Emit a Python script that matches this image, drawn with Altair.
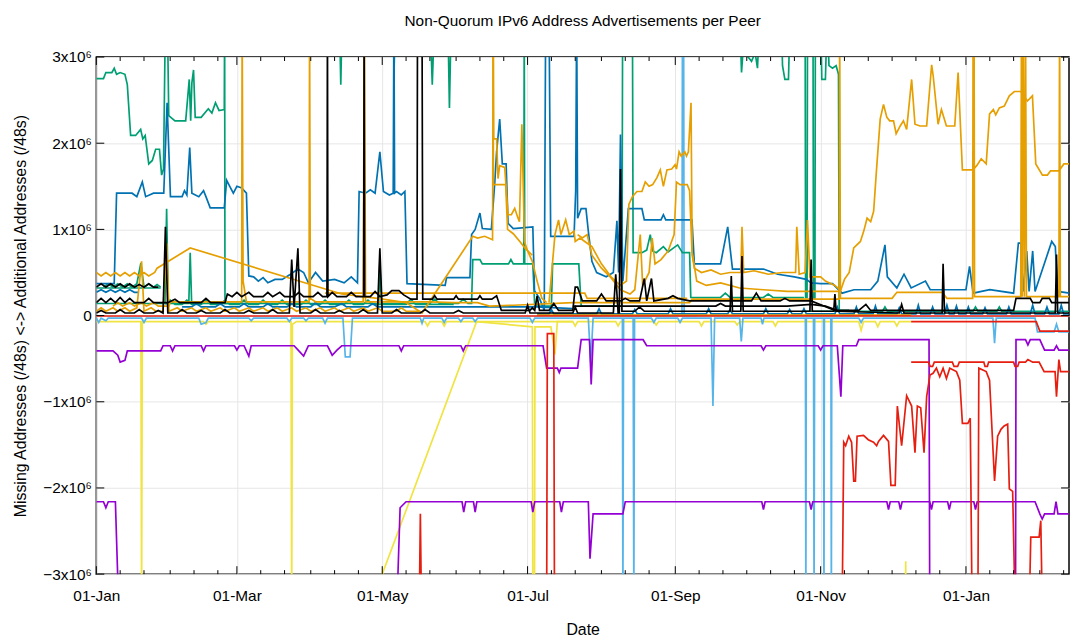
import altair as alt
import pandas as pd

# ---------------------------------------------------------------
# Data: (day offset from 2019-01-01, value in millions of /48s)
# values beyond +/-3 are off the plotted range (clipped)
# ---------------------------------------------------------------
yellow_flat = [(0,-0.07),(18.7,-0.07),(19,-3.5),(19.3,-0.07),(45,-0.07),(46,-0.1),(47,-0.07),(81.7,-0.07),(82,-3.5),(82.3,-0.1),(84,-0.07),
    (138,-0.07),(139,-0.12),(140,-0.07),(145,-0.07),(146,-0.12),(147,-0.07),(185,-0.07),(200,-0.07),(201,-0.12),(202,-0.07),(218,-0.07),(219,-0.12),(220,-0.07),
    (234,-0.07),(235,-0.11),(236,-0.07),(253,-0.07),(254,-0.12),(255,-0.07),(268,-0.07),(269,-0.11),(270,-0.07),(284,-0.07),(285,-0.12),(286,-0.07),
    (320,-0.07),(321,-0.17),(322,-0.07),(327,-0.07),(328,-0.13),(329,-0.07),(335,-0.07),(336,-0.12),(337,-0.07),(342,-0.07)]
yellow_ramp = [(110,-3.5),(120,-3.0),(159.6,-0.07),(183,-0.13),(183.2,-3.5),(183.9,-3.5),(184.1,-0.13),(190.8,-0.13),(192.5,-0.45),(193.5,-0.07),(200,-0.07)]
yellow_spike = [(339.5,-3.5),(339.7,-2.85),(339.9,-3.5)]

lblue_a = [(0,-0.03),(1,-0.08),(2,-0.03),(4,-0.06),(5,-0.03),(19,-0.03),(20,-0.08),(21,-0.03),(43,-0.03),(44,-0.1),(46,-0.08),(47,-0.03),
    (64,-0.03),(65,-0.06),(66,-0.03),(80,-0.03),(81,-0.07),(82,-0.03),(87,-0.03),(88,-0.06),(89,-0.03),(95,-0.03),(96,-0.09),(97,-0.03),
    (103.5,-0.03),(104.5,-0.48),(106.5,-0.48),(107.5,-0.03),(136,-0.03),(136.7,-0.09),(137.4,-0.03),(145,-0.03),(146,-0.08),(147,-0.03),
    (152,-0.03),(153,-0.07),(154,-0.03),(158,-0.03),(159,-0.07),(160,-0.03),(182,-0.03),(183,-0.08),(184,-0.03),(206.5,-0.03),(207.5,-0.55),(208.5,-0.03),
    (220.8,-0.03),(221,-3.5),(221.3,-0.03),(225.3,-0.03),(225.6,-3.5),(225.9,-0.03),(233,-0.03),(234,-0.08),(235,-0.03),(244,-0.03),(245,-0.08),(246,-0.03),
    (258,-0.03),(258.8,-1.05),(259.5,-0.03),(270,-0.03),(270.7,-0.3),(271.4,-0.03),(279,-0.03),(279.6,-0.1),(280.2,-0.03),
    (297.6,-0.03),(297.8,-3.5),(298,-0.03),(301,-0.03),(301.25,-3.5),(301.5,-0.03),(305.2,-0.03),(305.4,-3.5),(305.6,-0.03),(308.3,-0.03),(308.5,-3.5),(308.7,-0.03),
    (320,-0.03),(321,-0.08),(322,-0.03),(376.3,-0.03),(377,-0.32),(377.7,-0.03),(394,-0.03),(395,-0.19),(402,-0.19),(403,-0.1),(404,-0.19),(408.5,-0.19)]
lblue_b = [(200,0.0),(245.8,0.0),(246,3.5),(246.5,3.5),(246.7,0.0),(252,0.0)]

purple_upper = [(0,-0.41),(7,-0.41),(9,-0.46),(10,-0.54),(12,-0.52),(13,-0.41),(27,-0.41),(28,-0.35),(31,-0.35),(32,-0.41),(33,-0.35),(44,-0.35),(45,-0.41),(46,-0.35),
    (58,-0.35),(59,-0.4),(60,-0.35),(62,-0.35),(64,-0.47),(65,-0.35),(83,-0.35),(85,-0.41),(87,-0.47),(88,-0.41),(89,-0.35),(97,-0.35),(99,-0.46),(101,-0.4),(103,-0.35),
    (127,-0.35),(128,-0.41),(129,-0.35),(153,-0.35),(154,-0.41),(155,-0.35),(187.5,-0.35),(189,-0.61),(193.5,-0.61),(194.3,-0.66),(195,-0.61),(202,-0.61),(203.5,-0.28),
    (207,-0.28),(207.7,-0.8),(208.5,-0.28),(229.5,-0.28),(231,-0.35),(279,-0.35),(280,-0.4),(281,-0.35),(303,-0.35),(304,-0.4),(305,-0.35),(311,-0.35),(312.5,-0.94),(313.3,-0.35),
    (319,-0.35),(320,-0.28),(349.5,-0.28),(349.8,-3.5),(385.8,-3.5),(386,-0.28),(390,-0.28),(391,-0.34),(392,-0.28),(396,-0.28),(398,-0.4),(402,-0.4),(403,-0.35),(404,-0.4),(408.5,-0.4)]
purple_lower = [(0,-2.16),(3,-2.16),(4,-2.23),(5,-2.16),(8,-2.16),(9.5,-3.5),(126,-3.5),(127.5,-2.23),(130,-2.16),(153.5,-2.16),(154.2,-2.28),(155,-2.16),(158.3,-2.16),(159,-2.28),(159.7,-2.16),
    (182.5,-2.16),(183.2,-2.28),(184,-2.16),(194.5,-2.16),(195.2,-2.28),(196,-2.16),(206.5,-2.16),(207.2,-2.82),(208.5,-2.3),(221,-2.3),(222,-2.16),(279.3,-2.16),(280,-2.25),(280.7,-2.16),
    (299.3,-2.16),(300,-2.25),(300.7,-2.16),(331.8,-2.16),(332.5,-2.25),(333.2,-2.16),(336.8,-2.16),(337.5,-2.25),(338.2,-2.16),(349.8,-2.16),(350.5,-2.25),(351.2,-2.16),
    (357.3,-2.16),(358,-2.25),(358.7,-2.16),(368.3,-2.16),(369,-2.25),(369.7,-2.16),(394,-2.16),(396,-2.3),(397,-2.36),(398,-2.3),(402,-2.3),(402.8,-2.16),(403.6,-2.3),(408.5,-2.3)]

red_zero = [(0,-0.005),(408.5,-0.005)]
red_blocks = [(135.5,-3.5),(136,-2.3),(136.5,-3.5),(189,-3.5),(189.3,-0.21),(192,-0.21),(192.3,-3.5)]
red_neg01 = [(342,-0.07),(394.5,-0.07),(396,-0.18),(408.5,-0.18)]
red_neg05 = [(342,-0.54),(349.3,-0.54),(350,-0.59),(351,-0.59),(351.7,-0.54),(359.3,-0.54),(360,-0.59),(361.5,-0.59),(362.2,-0.54),(372.5,-0.54),(373,-0.59),(374,-0.59),(374.5,-0.54),
    (385,-0.54),(385.6,-0.59),(386.7,-0.59),(387.3,-0.54),(390,-0.54),(391,-0.51),(393,-0.54),(395.7,-0.54),(397.8,-0.65),(402.4,-0.65),(403,-0.94),(404,-0.51),(404.7,-0.65),(408.5,-0.65)]
red_deep = [(313,-3.5),(313.7,-1.47),(314.5,-1.51),(315.8,-1.40),(317,-1.47),(317.9,-1.92),(318.6,-1.92),(319.3,-1.40),(322,-1.39),(324,-1.44),(326.2,-1.47),(327.5,-1.51),(328.3,-1.46),
    (330.4,-1.39),(332.5,-1.46),(333.5,-1.97),(335.3,-1.97),(336.2,-1.05),(338,-1.51),(340.1,-0.93),(342.2,-1.05),(343.6,-1.59),(344.6,-1.05),(346,-1.07),(347.4,-1.59),(348.5,-0.94),
    (349.9,-0.69),(351.2,-0.67),(352.6,-0.61),(354,-0.71),(355.4,-0.61),(356.8,-0.73),(358.2,-0.61),(361,-0.65),(362.4,-0.75),(363.5,-1.25),(365.8,-1.25),(366.8,-1.19),(367.6,-3.5),
    (370,-3.5),(370.4,-0.61),(373.5,-0.65),(374.9,-0.75),(377,-1.92),(378.3,-1.40),(379.7,-1.32),(381,-1.28),(382.5,-1.26),(383.2,-2.01),(384.6,-2.04),(385.7,-3.5),
    (391.5,-3.5),(392.2,-2.57),(395.7,-2.57),(396.4,-2.38),(397.1,-3.5),(408.5,-3.5)]

teal_top_left = [(0,2.75),(3,2.75),(4,2.82),(6.5,2.82),(7.5,2.87),(8.5,2.8),(10,2.82),(12,2.8),(13,2.68),(14.4,2.09),(16.5,2.09),(18.6,2.16),(19.5,2.05),(20.5,2.09),(22,1.76),
    (23.5,1.8),(24.9,1.93),(26.5,1.93),(27.4,1.63),(28.2,1.7),(29,3.5),(29.8,3.5),(30.4,2.32),(33,2.26),(37.5,2.26),(39,2.74),(39.6,2.26),(40.1,2.7),(40.8,2.85),(41.5,2.3),
    (44,2.3),(47,2.4),(48.5,2.35),(50,2.47),(51.5,2.38),(53.7,2.39),(53.85,3.5),(54,0.14),(60,0.14)]
teal_top_mid = [(95,3.5),(102,3.5),(102.6,2.68),(103.2,3.5),(124.5,3.5),(125,2.87),(125.5,3.5),(140,3.5),(141,2.68),(142,3.5),(147.5,3.5),(148.2,2.41),(149,3.5),(155,3.5)]
teal_top_right = [(268,3.5),(270,3.5),(270.8,2.82),(271.5,3.1),(273,3.02),(275,2.95),(276.5,3.05),(277.5,2.87),(278.5,3.5),(287.5,3.5),(288,2.9),(289,2.74),(290.5,2.74),(291.2,3.5),
    (297.5,3.5),(297.7,0.21),(298.3,0.21),(298.5,3.5),(300.8,3.5),(301,0.2),(301.6,0.2),(301.8,3.5),(304,3.5),(304.5,2.74),(306,2.74),(306.8,3.5),(307.5,2.9),(309,2.87),
    (310.5,2.9),(311.5,2.8),(311.8,0.06),(316,0.06)]
teal_mid = [(0,0.14),(28.8,0.14),(29.5,1.24),(30.2,0.14),(38.8,0.14),(39.4,0.73),(40,0.14),(118.5,0.14),(119,0.63),(119.6,0.14),(140,0.14),(142,0.19),(144,0.14),(152,0.14),
    (154,0.19),(156,0.14),(157.5,0.14),(158,0.65),(161,0.65),(162,0.6),(173,0.6),(174,0.65),(175,0.6),(179.4,0.6),(179.6,3.5),(179.8,0.6),(183.2,0.6),(184,0.11),(191,0.11),
    (191.5,0.6),(202.5,0.6),(203.5,0.11),(220.6,0.11),(220.9,3.5),(225,3.5),(225.3,0.73),(229,0.73),(231,0.76),(232.5,0.94),(233.5,0.75),(235,0.73),(238,0.8),(240,0.74),
    (244,0.82),(246,0.73),(249,0.73),(249.5,0.21),(262,0.21),(264,0.26),(266,0.21),(280,0.21),(282,0.25),(284,0.21),(297,0.21)]
teal_flat_jan = [(0,0.32),(27,0.32)]
teal_zig_jan = [(3,0.33),(5,0.37),(7,0.33),(9,0.37),(11,0.33),(13,0.37),(15,0.33),(17,0.37),(18.7,0.61),(20,0.33),(22,0.37),(24,0.33),(25.5,0.36),(27,0.33)]
teal_zig_spring = [(29,0.13),(31,0.18),(33,0.13),(36,0.13),(38,0.18),(40,0.13),(44,0.13),(46,0.18),(48,0.13),(52,0.13),(54,0.18),(56,0.13),(60,0.13),(62,0.18),(64,0.13),
    (68,0.13),(70,0.18),(72,0.13),(76,0.13),(78,0.18),(80,0.13),(86,0.13),(88,0.18),(90,0.13),(94,0.13),(96,0.18),(98,0.13),(104,0.13),(106,0.18),(108,0.13),(112,0.13),
    (114,0.18),(116,0.13),(120,0.13),(130,0.13),(132,0.19),(134,0.13),(150,0.13)]
teal_low_right = [(297,0.05),(330,0.05),(331,0.1),(332,0.05),(368,0.05),(369,0.1),(370,0.05),(378,0.05),(379,0.1),(380,0.05),(408.5,0.05)]

blue_a = [(0,0.37),(7.5,0.37),(8.5,1.42),(15,1.42),(17,1.38),(19.3,1.55),(20.7,1.38),(24,1.42),(28.3,1.42),(29.7,2.47),(31.1,1.38),(36,1.38),(37,1.45),(38,1.4),(39.2,1.95),
    (40.1,1.42),(43,1.38),(45,1.45),(46,1.38),(47.8,1.25),(53.7,1.25),(54.7,1.57),(56,1.5),(57.5,1.42),(59,1.5),(61,1.48),(63,1.42),(64,0.46),(66,0.45),(68,0.40),(70,0.44),
    (72,0.38),(75,0.42),(78,0.42),(81,0.47),(84.6,0.54),(87,0.5),(89,0.38),(92,0.5),(95,0.4),(100,0.42),(104,0.38),(107,0.45),(109.6,0.38),(110.3,1.44),(113,1.42),(115,1.46),
    (117,1.42),(119,1.9),(120.5,1.44),(123,1.4),(124.6,1.42),(124.9,3.5),(125.2,1.42),(126,1.44),(128,1.4),(129.5,1.44),(130.4,0.37),(146.4,0.35),(147,0.44),(156.8,0.44),
    (157.5,0.94),(159,1.0),(161,1.19),(162,1.01),(165.8,1.0),(167.2,1.53),(168,1.9),(169.3,2.28),(170.4,1.76),(172,1.76),(172.8,1.07),(175,1.01),(183.2,1.03),(183.9,0.29)]
blue_b = [(183.9,0.29),(186,0.2),(188,0.06),(188.6,3.5),(190,3.5),(190.7,0.92),(200.5,0.92),(201.2,1.45),(201.6,3.5),(202,1.13),(203.5,1.24),(205.5,1.24),(206.5,0.98),
    (208,0.63),(210,0.5),(214,0.45),(217,0.5),(218.5,1.1),(219.2,0.5),(220,2.1),(221,0.4),(223.3,1.24),(229,1.24),(230,1.11),(237,1.11),(238,1.17),(239,1.11),(250,1.11),
    (251,0.6),(262,0.6),(265,1.03),(267,0.54),(280,0.54),(286,0.48),(293,0.45),(298,0.42),(300,0.38),(304,0.37),(309,0.37),(313,0.26),(318,0.3),(325,0.3),(328,0.4),
    (331,0.82),(332,0.45),(336,0.32),(339,0.48),(342,0.32),(348,0.4),(350,0.3),(365,0.3),(366.5,0.57),(368,0.26),(375,0.3),(385,0.26),(387,0.84),(388,0.84),(389,0.28),
    (390.5,0.75),(391.5,0.28),(393,0.75),(394,0.28),(401,0.86),(402.5,0.8),(403.5,0.28),(408.5,0.26)]
blue_jan = [(0,0.27),(2,0.3),(4,0.27),(6,0.3),(8,0.27),(10,0.3),(12,0.27),(14,0.3),(16,0.27),(17.5,0.27)]
blue_low = [(36,0.1),(40,0.1),(42,0.14),(44,0.1),(50,0.1),(52,0.14),(54,0.1),(60,0.1),(62,0.14),(64,0.1),(70,0.1),(72,0.14),(74,0.1),(80,0.1),(82,0.14),(84,0.1),
    (90,0.1),(92,0.15),(94,0.1),(100,0.1),(103,0.14),(105,0.1),(110,0.1),(114,0.1),(116,0.14),(118,0.1),(130,0.1),(150,0.1),(170,0.1),(185,0.1),(200,0.08)]
blue_tri = [(185,0.02),(190,0.02),(191,0.07),(192,0.02),(210,0.02),(211,0.08),(212,0.02),(225,0.02),(226,0.07),(227,0.02),(240,0.02),(241,0.08),(242,0.02),
    (256,0.02),(257,0.08),(258,0.02),(265,0.02),(266,0.07),(267,0.02),(280,0.02),(281,0.08),(282,0.02),(290,0.02),(291,0.07),(292,0.02),(296,0.02),(297,0.08),(298,0.02),
    (310,0.02),(311,0.1),(312,0.02),(318,0.02),(319,0.1),(320,0.02),(326,0.02),(327,0.11),(328,0.02),(336,0.02),(337,0.09),(338,0.02),(344,0.02),(345,0.12),(346,0.02),
    (350,0.02),(351,0.1),(352,0.02),(356,0.02),(357,0.12),(358,0.02),(360,0.02),(361,0.11),(362,0.02),(365,0.02),(366,0.1),(367,0.02),(372,0.02),(373,0.09),(374,0.02),
    (382,0.02),(383,0.1),(384,0.02),(392,0.02),(393,0.12),(394,0.02),(398,0.02),(399,0.1),(400,0.02),(404,0.02),(405,0.12),(406,0.02),(408.5,0.02)]

orange_zero = [(185,0.005),(342,0.005)]
orange_jan = [(0,0.5),(2,0.46),(4,0.5),(6,0.46),(8,0.5),(10,0.46),(12,0.5),(14,0.46),(16,0.5),(18,0.46),(20,0.5),(22,0.46),(24.5,0.5),(25.5,0.55),(39.4,0.785),
    (103,0.25),(118,0.2),(130,0.15),(136.7,0.03),(158,0.92),(160,0.9),(163,0.92),(166.3,0.88),(166.6,3.5),(166.8,2.05),(168,2.05),(168.6,1.59),(169.3,1.74),(171.4,1.72),
    (172.8,1.17),(174.2,1.17),(175.6,1.245),(177,1.13),(177.6,1.09),(178.6,2.22),(179.7,0.86),(181,0.75),(183,0.63),(185,0.4),(187,0.2),(189,0.15)]
orange_shelf = [(166.4,3.5),(166.7,1.52),(171.8,1.52),(172.6,1.0),(175,0.95),(178,0.85),(180,0.78),(183,0.7)]
orange_low_zig = [(0,0.05),(2,0.09),(4,0.05),(7,0.09),(9,0.05),(12,0.09),(14,0.05),(17,0.09),(19,0.63),(20,0.05),(23,0.09),(25,0.05),(28,0.05),(29.5,0.84),(30.5,0.05),
    (34,0.09),(36,0.05),(40,0.09),(42,0.05),(46,0.09),(48,0.05),(52,0.09),(54,0.05),(58,0.09),(60,0.05),(64,0.09),(66,0.05),(70,0.09),(72,0.05),(76,0.09),(78,0.05),
    (82,0.09),(84,0.05),(88,0.09),(90,0.05),(94,0.09),(96,0.05),(100,0.09),(102,0.05),(106,0.09),(108,0.05),(112,0.09),(114,0.05),(118,0.09),(120,0.05),(126,0.05),
    (128,0.09),(130,0.05),(136,0.05)]
orange_base = [(7,0.11),(9,0.15),(11,0.11),(14,0.15),(16,0.11),(19,0.15),(21,0.11),(24,0.15),(26,0.11),(30.5,0.11),(31,0.16),(60,0.16),(61,0.16),(61.2,3.5),(61.6,0.4),
    (63,0.16),(89.3,0.16),(89.5,3.5),(89.8,0.2),(92,0.16),(112,0.16),(112.5,3.5),(113,0.16),(140,0.16),(150,0.15),(160,0.15),(165,0.11),(175,0.12),(200,0.15),(249,0.15),
    (250,0.19),(311.8,0.19),(312,3.5),(312.3,0.2),(330,0.2),(334,0.2),(336,0.27),(355,0.27),(357,0.2),(367.8,0.2),(368,3.5),(368.4,3.5),(368.6,0.22),(388,0.22),
    (388.3,3.5),(388.6,0.22),(389,3.5),(389.5,0.22),(390,3.5),(390.4,0.22),(404,0.22),(404.3,3.5),(404.6,0.22),(408.5,0.22)]
orange_flat = [(96,0.26),(205,0.26),(206,0.2),(248,0.2)]
orange_mid = [(190,0.15),(192.5,0.94),(194,1.11),(195,0.94),(197,1.11),(198.5,0.94),(200.5,0.98),(201,0.86),(203,0.9),(205,0.86),(208,0.8),(212,0.6),(216,0.45),
    (220,0.35),(222.5,0.4),(223.5,1.29),(225,1.38),(226.9,1.44),(229,1.44),(230.4,1.55),(232,1.5),(233.5,1.52),(235.3,1.6),(236.7,1.69),(238,1.5),(239.5,1.69),(241.5,1.7),
    (242.9,1.75),(243.5,1.7),(244.6,1.9),(245.5,1.85),(247,1.9),(247.7,1.85),(248.5,1.9),(249.6,2.47),(250.1,0.7),(251,0.55),(254,0.5),(258,0.53),(262,0.48),(266,0.5),
    (270.5,0.5),(271,1.03),(271.7,0.5),(276,0.52),(282,0.48),(288,0.5),(293.5,0.5),(294,1.03),(295,0.48),(297.5,0.5),(298.5,1.11),(299.5,0.45),(304,0.45),(306,0.4),
    (310,0.35),(312.4,0.29),(314,0.42),(316,0.5),(317.9,0.785),(320.7,0.86),(322.1,0.98),(323.5,1.13),(325,1.09),(326.25,1.21),(327.4,1.67),(329,2.28),(330.4,2.45),
    (331.8,2.3),(333,2.26),(334.6,2.26),(335.7,2.11),(337.4,2.2),(338.75,2.26),(340.1,2.16),(342.2,2.74),(343.6,2.22),(345.7,2.2),(348.5,2.2),(350.6,2.91),(351.25,2.78),
    (353.3,2.22),(354.7,2.39),(356.8,2.2),(360.3,2.2),(361.7,2.82),(363.5,1.69),(367.9,1.69),(369.5,1.74),(371.4,1.82),(373.5,1.76),(374.9,2.34),(376.5,2.39),(377.5,2.33),
    (379,2.41),(381.1,2.43),(383.2,2.55),(385.3,2.6),(388.1,2.6),(390.8,2.49),(392.9,2.55),(394.3,1.76),(397.1,1.63),(399.2,1.63),(400.5,1.68),(404,1.68),(406.1,1.76),(408.5,1.76)]
orange_second = [(202,0.94),(204,0.9),(206,0.94),(208,0.7),(212,0.55),(216,0.44),(220,0.3),(224,0.25),(226,0.3),(228.3,0.94),(229.3,0.35),(232,0.5),(233.3,0.9),(234.5,0.6),
    (237,0.65),(240,0.75),(242.5,0.94),(243.5,1.55),(245,1.52),(248,1.52),(249,1.45),(250,0.75),(252,0.4),(256,0.35),(262,0.38),(270,0.32),(280,0.3),(290,0.28),(300,0.28),(312,0.28)]

black_jan = [(0,0.33),(2,0.37),(4,0.33),(6,0.37),(8,0.33),(10,0.37),(12,0.33),(14,0.37),(16,0.33),(18,0.36),(20,0.33),(22,0.37),(24,0.33),(26,0.33)]
black_steps = [(0,0.15),(2,0.2),(4,0.15),(6,0.2),(8,0.15),(10,0.21),(12,0.15),(14,0.2),(16,0.15),(20,0.15),(22,0.2),(24,0.15),(30,0.15),(33,0.19),(35,0.15),(44,0.15),
    (46,0.2),(48,0.15),(54,0.15),(55,0.25),(57,0.22),(59,0.27),(61,0.22),(64,0.27),(66,0.22),(70,0.22),(72,0.27),(74,0.22),(77,0.27),(79,0.22),(83,0.22),(85,0.27),(87,0.22),
    (91,0.22),(93,0.27),(95,0.22),(96.8,0.22),(97,3.5),(97.2,0.22),(99,0.27),(101,0.22),(105,0.22),(107,0.27),(109,0.22),(112.2,0.22),(112.4,3.5),(112.6,0.22),(115,0.22),
    (117,0.28),(119,0.22),(122,0.24),(124,0.29),(127,0.29),(129,0.24),(132,0.19),(134.6,0.19),(134.8,3.5),(136.7,3.5),(137,0.19),(141,0.19),(142,0.23),(143,0.19),(150,0.19),
    (151,0.23),(152,0.19),(160,0.19),(161,0.23),(162,0.19),(166,0.19),(168,0.23),(170,0.06),(182,0.06),(183,0.09),(184,0.06),(185,0.23),(186,0.06),(190,0.06),(192,0.14),
    (194,0.06),(200,0.06),(201,0.33),(202,0.33),(204,0.17),(210,0.17),(212,0.25),(214,0.17),(220,0.17),(222,0.2),(224,0.17),(228,0.17),(230,0.43),(231,0.17),(233,0.43),
    (234,0.17),(240,0.2),(242,0.23),(244,0.2),(249,0.17),(266,0.17),(275,0.17),(277,0.26),(279,0.17),(287,0.17),(289,0.2),(291,0.17),(300,0.17),(310,0.06),(320,0.06),
    (323,0.13),(325,0.06),(340,0.06),(385,0.06),(386,0.2),(392,0.2),(393,0.15),(396,0.15),(397,0.2),(400,0.2),(401,0.15),(408.5,0.15)]
black_mid = [(200,0.11),(260,0.11),(262,0.14),(264,0.11),(290,0.11),(300,0.13),(306,0.11),(311,0.06)]
black_low = [(0,0.03),(2,0.06),(4,0.03),(8,0.03),(10,0.07),(12,0.03),(16,0.03),(18,0.07),(20,0.03),(24,0.03),(26,0.06),(28,0.03),(29,1.03),(30,0.03),(34,0.03),(36,0.07),
    (38,0.03),(42,0.03),(44,0.06),(46,0.03),(52,0.03),(54,0.07),(56,0.03),(62,0.03),(64,0.06),(66,0.03),(72,0.03),(74,0.07),(76,0.03),(81,0.03),(82,0.65),(83,0.1),
    (84.6,0.78),(85.5,0.03),(90,0.03),(92,0.07),(94,0.03),(100,0.03),(102,0.06),(104,0.03),(110,0.03),(112,0.07),(114,0.03),(118,0.03),(119,0.78),(120,0.03),(124,0.03),
    (126,0.07),(128,0.03),(136,0.03),(138,0.07),(140,0.03),(150,0.03),(152,0.06),(154,0.03),(180,0.03),(181,0.12),(182,0.03),(200,0.03),(201,0.1),(202,0.03),(217,0.03),
    (218,0.48),(219,0.03),(219.5,0.03),(220,1.7),(220.6,0.05),(226,0.05),(228,0.1),(230,0.05),(266,0.05),(266.5,0.46),(267,0.05),(270.5,0.05),(271,0.69),(271.5,0.05),
    (299.5,0.05),(300,0.65),(300.5,0.05),(309.5,0.05),(310,0.25),(310.5,0.05),(337,0.03),(338,0.13),(339,0.03),(355,0.03),(355.4,0.6),(356,0.03),(402.5,0.03),(403,0.71),
    (403.5,0.03),(408.5,0.03)]

PURPLE, TEAL, LBLUE, ORANGE = "#9400d3", "#009e73", "#56b4e9", "#e69f00"
YELLOW, BLUE, RED, BLACK = "#f0e442", "#0072b2", "#e51e10", "#000000"

SERIES = [
    (yellow_flat, YELLOW), (yellow_ramp, YELLOW), (yellow_spike, YELLOW),
    (lblue_a, LBLUE), (lblue_b, LBLUE),
    (purple_upper, PURPLE), (purple_lower, PURPLE),
    (red_blocks, RED), (red_neg01, RED), (red_neg05, RED), (red_deep, RED),
    (teal_top_left, TEAL), (teal_top_mid, TEAL), (teal_top_right, TEAL), (teal_mid, TEAL),
    (teal_flat_jan, TEAL), (teal_zig_jan, TEAL), (teal_zig_spring, TEAL), (teal_low_right, TEAL),
    (blue_a, BLUE), (blue_b, BLUE), (blue_jan, BLUE), (blue_low, BLUE), (blue_tri, BLUE),
    (orange_jan, ORANGE), (orange_shelf, ORANGE), (orange_low_zig, ORANGE),
    (orange_base, ORANGE), (orange_flat, ORANGE), (orange_mid, ORANGE), (orange_second, ORANGE),
    (black_jan, BLACK), (black_steps, BLACK), (black_mid, BLACK), (black_low, BLACK),
    (orange_zero, ORANGE), (red_zero, RED),
]

MAJOR_MONTHS = [(2019, 1), (2019, 3), (2019, 5), (2019, 7), (2019, 9), (2019, 11), (2020, 1)]
Y_TICKS = [-3e6, -2e6, -1e6, 0, 1e6, 2e6, 3e6]
FONT = "Liberation Sans"
W, H = 980, 521

BASE = pd.Timestamp("2019-01-01")


def iso(ts):
    return ts.strftime("%Y-%m-%dT%H:%M:%S")


rows = []
names, colors = [], []
for k, (pts, col) in enumerate(SERIES):
    name = f"s{k:02d}"
    names.append(name)
    colors.append(col)
    for i, (d, v) in enumerate(pts):
        rows.append({"series": name, "date": iso(BASE + pd.Timedelta(days=d)), "value": v * 1e6, "i": i})
df = pd.DataFrame(rows)

major_dates = [iso(pd.Timestamp(year=y, month=m, day=1)) for y, m in MAJOR_MONTHS]
minor_dates = []
for y, m in [(2019, mm) for mm in range(1, 13)] + [(2020, 1), (2020, 2)]:
    for dd in (1, 11, 21):
        t = pd.Timestamp(year=y, month=m, day=dd)
        if t <= pd.Timestamp("2020-02-13") and iso(t) not in major_dates:
            minor_dates.append(iso(t))
df_major = pd.DataFrame({"date": major_dates})
df_minor = pd.DataFrame({"date": minor_dates})
df_y = pd.DataFrame({"value": Y_TICKS})

xscale = alt.Scale(domain=[alt.DateTime(year=2019, month=1, date=1),
                           alt.DateTime(year=2020, month=2, date=13, hours=6)])
yscale = alt.Scale(domain=[-3e6, 3e6], nice=False, zero=False)

xaxis = alt.Axis(values=[alt.DateTime(year=y, month=m, date=1) for y, m in MAJOR_MONTHS],
                 format="%d-%b", labelFontSize=15.5, labelPadding=15, labelFont=FONT, labelColor="black",
                 labelFlush=False, labelOverlap=False, ticks=False, tickSize=0, domain=False,
                 grid=True, gridColor="#e6e6e6", gridWidth=1,
                 title="Date", titleFontSize=16, titleFontWeight="normal", titleFont=FONT,
                 titleColor="black", titlePadding=17)
yaxis = alt.Axis(values=Y_TICKS,
                 labelExpr="datum.value == 0 ? '0' : format(datum.value / 1000000, 'd') + 'x10\u2076'",
                 labelFontSize=15.5, labelPadding=5, labelFont=FONT, labelColor="black",
                 labelFlush=False, labelOverlap=False, ticks=False, tickSize=0, domain=False,
                 grid=True, gridColor="#e6e6e6", gridWidth=1,
                 title="Missing Addresses (/48s) <-> Additional Addresses (/48s)",
                 titleFontSize=16, titleFontWeight="normal", titleFont=FONT, titleColor="black",
                 titlePadding=14)

X = alt.X("date:T", scale=xscale, axis=xaxis)
Y = alt.Y("value:Q", scale=yscale, axis=yaxis)

lines = alt.Chart(df).mark_line(clip=True, strokeWidth=1.7).encode(
    x=X, y=Y,
    color=alt.Color("series:N", scale=alt.Scale(domain=names, range=colors), legend=None),
    order=alt.Order("i:Q"),
)

tick_major_b = alt.Chart(df_major).mark_rule(color="black", strokeWidth=1).encode(
    x=X, y=alt.value(H), y2=alt.value(H - 8))
tick_minor_b = alt.Chart(df_minor).mark_rule(color="black", strokeWidth=1).encode(
    x=X, y=alt.value(H), y2=alt.value(H - 4))
tick_major_t = alt.Chart(df_major).mark_rule(color="black", strokeWidth=1).encode(
    x=X, y=alt.value(0), y2=alt.value(8))
tick_minor_t = alt.Chart(df_minor).mark_rule(color="black", strokeWidth=1).encode(
    x=X, y=alt.value(0), y2=alt.value(4))
tick_y_l = alt.Chart(df_y).mark_rule(color="black", strokeWidth=1).encode(
    y=Y, x=alt.value(0), x2=alt.value(8))
tick_y_r = alt.Chart(df_y).mark_rule(color="black", strokeWidth=1).encode(
    y=Y, x=alt.value(W - 8), x2=alt.value(W))

chart = alt.layer(lines, tick_major_b, tick_minor_b, tick_major_t, tick_minor_t, tick_y_l, tick_y_r).properties(
    width=W, height=H,
    title=alt.TitleParams("Non-Quorum IPv6 Address Advertisements per Peer", fontSize=15.5,
                          fontWeight="normal", font=FONT, color="black", anchor="middle", offset=21),
    autosize=alt.AutoSizeParams(type="none"),
    padding={"left": 89, "top": 47, "right": 1, "bottom": 70},
).configure_view(stroke="black", strokeWidth=1.5)

chart.save("out.html", embed_options={"renderer": "svg", "actions": False})
